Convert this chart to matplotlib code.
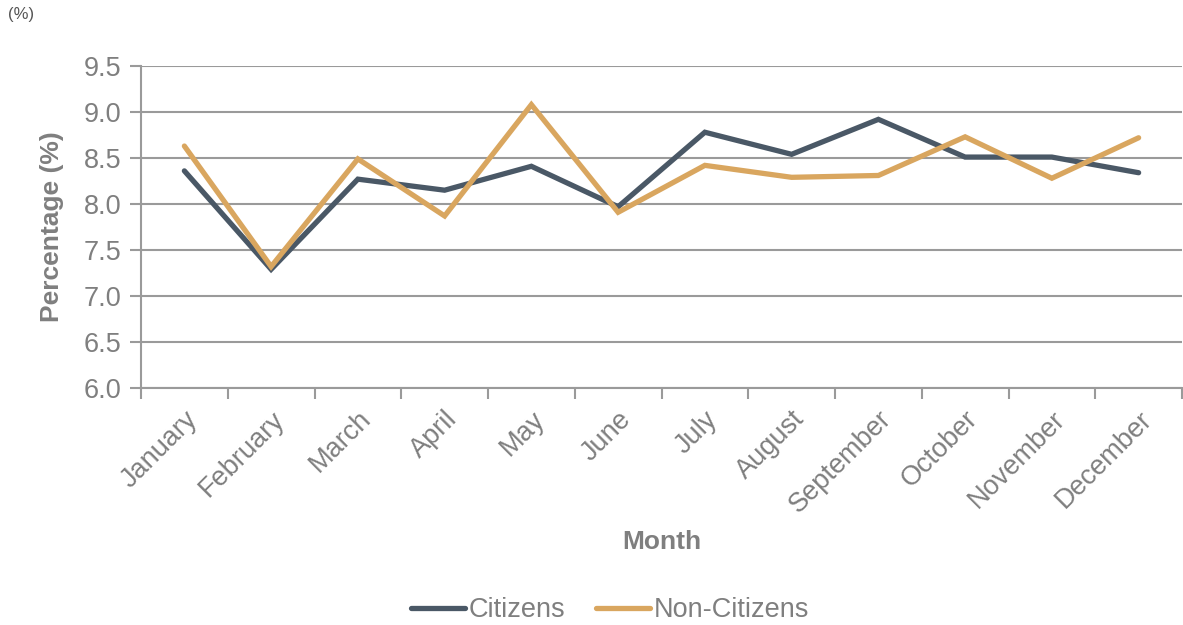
import matplotlib
matplotlib.use("Agg")
import matplotlib.pyplot as plt

months = ["January", "February", "March", "April", "May", "June", "July",
          "August", "September", "October", "November", "December"]
citizens = [8.36, 7.29, 8.27, 8.15, 8.41, 7.97, 8.78, 8.54, 8.92, 8.51, 8.51, 8.34]
non_citizens = [8.63, 7.32, 8.49, 7.87, 9.08, 7.91, 8.42, 8.29, 8.31, 8.73, 8.28, 8.72]
yticks = [6.0, 6.5, 7.0, 7.5, 8.0, 8.5, 9.0, 9.5]

plt.rcParams['font.family'] = ['Liberation Sans', 'DejaVu Sans']
TXT = '#7f7f7f'
GRID = '#9a9a9a'

fig = plt.figure(figsize=(11.83, 6.25), dpi=100)
ax = fig.add_axes([141/1183, 1 - 388/625, 1041/1183, 322/625])

x = list(range(len(months)))
ax.plot(x, citizens, color='#4a5866', lw=3.8, solid_capstyle='round',
        solid_joinstyle='miter', label='Citizens', zorder=3)
ax.plot(x, non_citizens, color='#d9a65f', lw=3.8, solid_capstyle='round',
        solid_joinstyle='miter', label='Non-Citizens', zorder=3)

ax.set_xlim(-0.5, len(months) - 0.5)
ax.set_ylim(6.0, 9.5)
ax.set_yticks(yticks)
ax.set_yticklabels([f"{v:.1f}" for v in yticks])
ax.yaxis.grid(True, color=GRID, lw=1.5)
ax.set_axisbelow(True)

ax.set_xticks(x)
ax.set_xticklabels(months, rotation=45, ha='right', rotation_mode='anchor')
ax.set_xticks([i - 0.5 for i in range(len(months) + 1)], minor=True)
ax.tick_params(axis='x', which='major', length=0, pad=13, labelsize=19.5, labelcolor=TXT)
ax.tick_params(axis='x', which='minor', length=8, width=1.5, color=GRID)
ax.tick_params(axis='y', length=8, width=1.5, color=GRID, labelsize=19.5,
               labelcolor=TXT, pad=6)

for s in ['top', 'right']:
    ax.spines[s].set_visible(False)
for s in ['left', 'bottom']:
    ax.spines[s].set_color(GRID)
    ax.spines[s].set_linewidth(1.5)

ax.set_ylabel('Percentage (%)', fontsize=19, fontweight='bold', color=TXT, labelpad=14)
ax.set_xlabel('Month', fontsize=19, fontweight='bold', color=TXT, labelpad=8)

fig.text(8/1183, 1 - 15/625, '(%)', fontsize=12, color='#555555', va='center', ha='left')

leg = fig.legend(loc='center', bbox_to_anchor=(610/1183, 1 - 610/625), ncol=2,
                 frameon=False, fontsize=19.5, handlelength=2.0, handletextpad=0.15,
                 columnspacing=1.1)
for t in leg.get_texts():
    t.set_color(TXT)

fig.savefig('out.png', dpi=100)
